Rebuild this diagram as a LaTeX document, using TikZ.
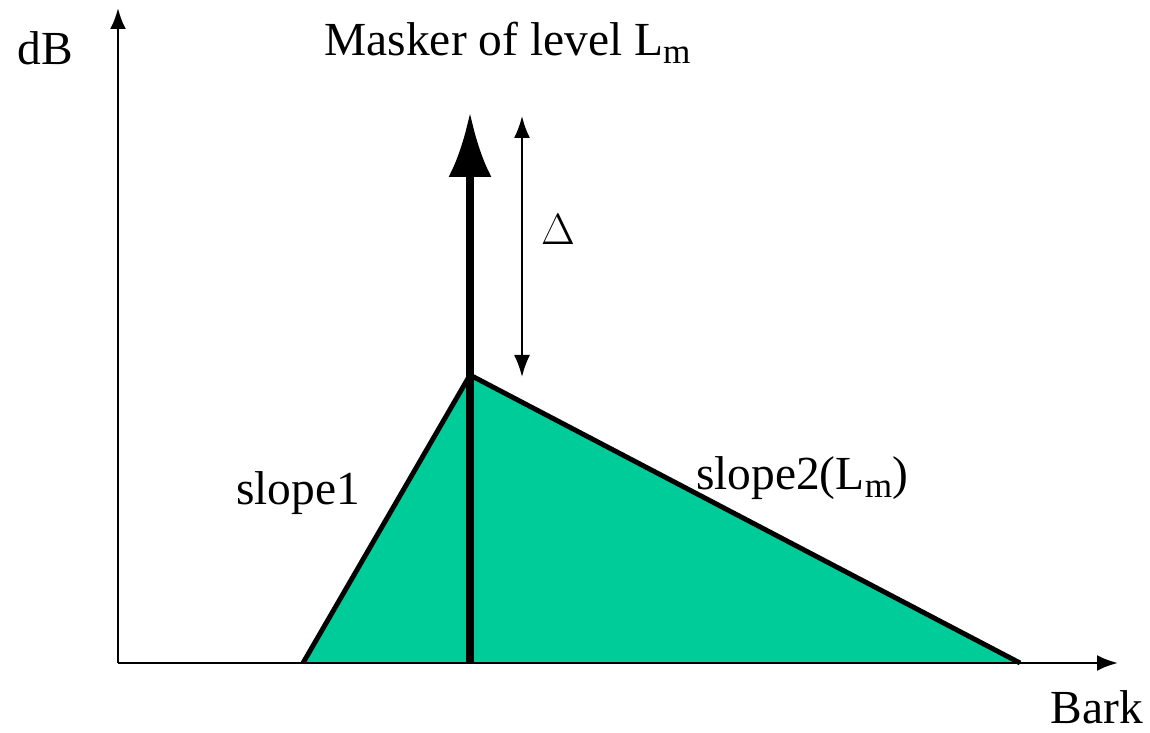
\documentclass[tikz,border=0pt]{standalone}
\usepackage{fontspec}
\setmainfont{Liberation Serif}
\usepackage{tikz}
\usetikzlibrary{arrows.meta}
\definecolor{maskgreen}{RGB}{0,204,153}
\newcommand{\lsub}[1]{\raisebox{-0.35ex}{\fontsize{20}{20}\selectfont #1}}

\begin{document}
\begin{tikzpicture}[
    lbl/.style={inner sep=0pt, font=\fontsize{27}{31}\selectfont},
    axis/.style={line width=1.6pt, -{Latex[length=0.42cm,width=0.32cm]}}
  ]
    \useasboundingbox (0,0) rectangle (23,14.66);

    % Points of the axes
    \coordinate (o) at (2.36,1.40);
    \coordinate (ytop) at (2.36,14.50);
    \coordinate (xend) at (22.36,1.40);

    % Masking curve
    \coordinate (left) at (6.06,1.40);
    \coordinate (peak) at (9.40,7.16);
    \coordinate (right) at (20.40,1.40);
    \coordinate (mbase) at (9.40,1.40);
    \coordinate (mtop) at (9.40,12.42);
    \coordinate (dtop) at (10.44,12.34);
    \coordinate (dbot) at (10.44,7.12);

    \fill[maskgreen] (left) -- (peak) -- (right) -- cycle;
    \draw[line width=2.8pt, line join=miter] (left) -- (peak) -- (right);

    % Axes
    \draw[axis] (o) -- (ytop);
    \draw[axis] (o) -- (xend);

    % Masker
    \draw[line width=4.6pt, -{Latex[length=1.3cm,width=0.86cm]}] (mbase) -- (mtop);
    \draw[line width=1.2pt, {Latex[length=0.44cm,width=0.32cm]}-{Latex[length=0.44cm,width=0.32cm]}] (dtop) -- (dbot);

    % Labels
    \node[lbl] (ylab) at (0.90,13.70) {dB};
    \node[lbl] (xlab) at (21.94,0.52) {Bark};
    \node[lbl] (masker) at (10.15,13.80) {Masker of level L\lsub{m}};
    \node[lbl] (delta) at (11.16,10.06) {$\Delta$};
    \node[lbl] (s1) at (5.96,4.80) {slope1};
    \node[lbl] (s2) at (16.04,5.10) {slope2(L\lsub{m})};
\end{tikzpicture}
\end{document}
